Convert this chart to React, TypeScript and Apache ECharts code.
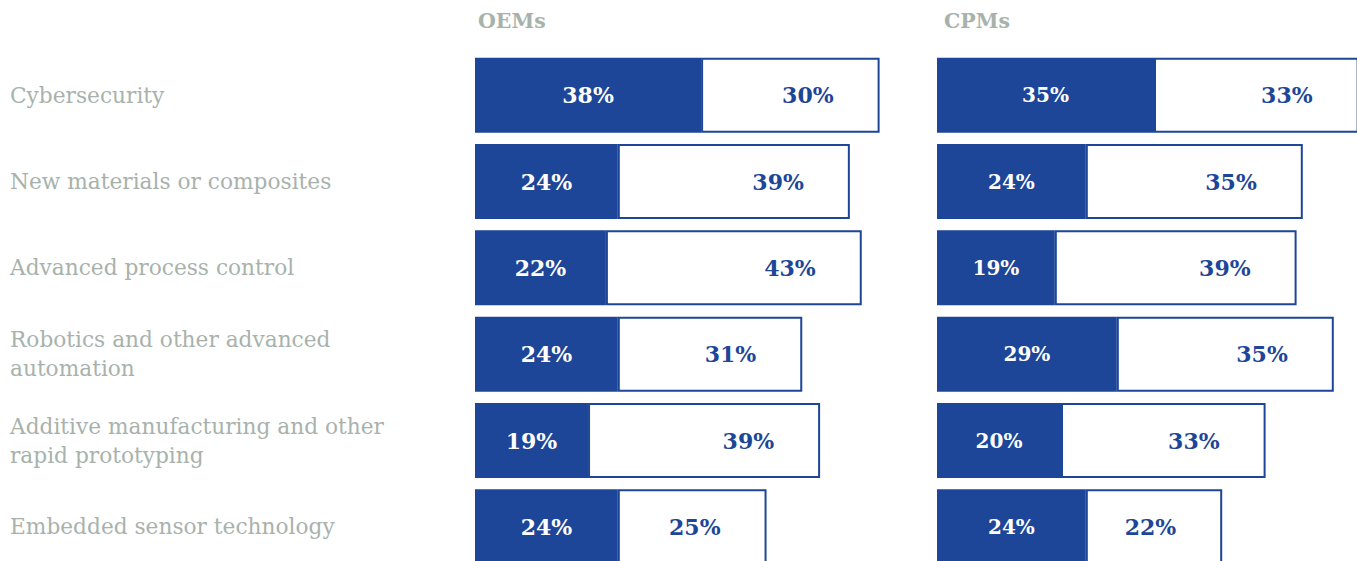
import React, { useEffect, useRef } from "react";
import * as echarts from "echarts";

const categories = [
  "Cybersecurity",
  "New materials or composites",
  "Advanced process control",
  "Robotics and other advanced\nautomation",
  "Additive manufacturing and other\nrapid prototyping",
  "Embedded sensor technology",
];
const oemFilled = [38, 24, 22, 24, 19, 24];
const oemOutline = [30, 39, 43, 31, 39, 25];
const cpmFilled = [35, 24, 19, 29, 20, 24];
const cpmOutline = [33, 35, 39, 35, 33, 22];
const panelTitles = ["OEMs", "CPMs"];

const BLUE = "#1d4598";
const GREY = "#a8b2ac";
const SERIF = "'DejaVu Serif', Georgia, serif";

export default function App() {
  const ref = useRef<HTMLDivElement>(null);
  useEffect(() => {
    document.body.style.margin = "0";
    document.body.style.overflow = "hidden";
    document.documentElement.style.overflow = "hidden";
    const chart = echarts.init(ref.current!, null, { renderer: "svg" });
    const filledSeries = (data: number[], idx: number, size: number) => ({
      type: "bar",
      xAxisIndex: idx,
      yAxisIndex: idx,
      stack: "s" + idx,
      data,
      barWidth: 75,
      itemStyle: { color: BLUE },
      label: {
        show: true,
        position: "inside",
        formatter: "{c}%",
        color: "#ffffff",
        fontFamily: SERIF,
        fontWeight: "bold",
        fontSize: size,
      },
    });
    const outlineSeries = (data: number[], idx: number) => ({
      type: "bar",
      xAxisIndex: idx,
      yAxisIndex: idx,
      stack: "s" + idx,
      data,
      barWidth: 75,
      itemStyle: { color: "#ffffff", borderColor: BLUE, borderWidth: 2 },
      label: {
        show: true,
        position: "insideRight",
        distance: 46,
        formatter: "{c}%",
        color: BLUE,
        fontFamily: SERIF,
        fontWeight: "bold",
        fontSize: 22,
      },
    });
    chart.setOption({
      animation: false,
      title: [
        {
          text: panelTitles[0],
          left: 473,
          top: 5,
          textStyle: { color: GREY, fontFamily: SERIF, fontWeight: "bold", fontSize: 20.5 },
        },
        {
          text: panelTitles[1],
          left: 939,
          top: 5,
          textStyle: { color: GREY, fontFamily: SERIF, fontWeight: "bold", fontSize: 20.5 },
        },
      ],
      grid: [
        { left: 475, top: 52, width: 595, height: 518 },
        { left: 937, top: 52, width: 620, height: 518 },
      ],
      xAxis: [
        { type: "value", gridIndex: 0, min: 0, max: 100, show: false },
        { type: "value", gridIndex: 1, min: 0, max: 100, show: false },
      ],
      yAxis: [
        {
          type: "category",
          gridIndex: 0,
          data: categories,
          inverse: true,
          axisLine: { show: false },
          axisTick: { show: false },
          splitLine: { show: false },
          axisLabel: {
            align: "left",
            margin: 465,
            color: GREY,
            fontFamily: SERIF,
            fontSize: 21.7,
            lineHeight: 29,
          },
        },
        {
          type: "category",
          gridIndex: 1,
          data: categories,
          inverse: true,
          axisLine: { show: false },
          axisTick: { show: false },
          splitLine: { show: false },
          axisLabel: { show: false },
        },
      ],
      series: [
        filledSeries(oemFilled, 0, 22),
        outlineSeries(oemOutline, 0),
        filledSeries(cpmFilled, 1, 20),
        outlineSeries(cpmOutline, 1),
      ],
    });
    return () => chart.dispose();
  }, []);
  return (
    <div
      ref={ref}
      style={{ position: "absolute", left: 0, top: 0, width: 1600, height: 600 }}
    />
  );
}
